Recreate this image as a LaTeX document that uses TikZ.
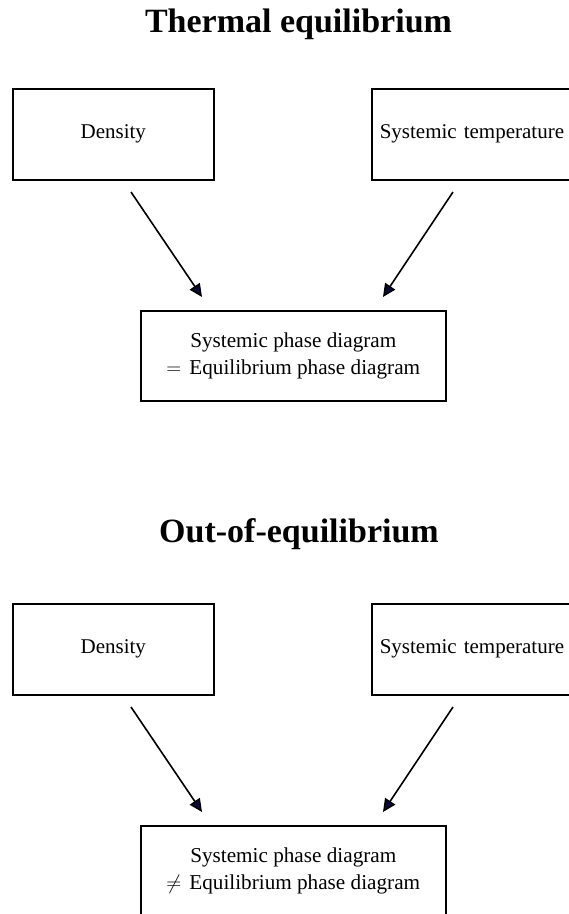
\documentclass[tikz,border=0pt]{standalone}
\usepackage{fontspec}
\setmainfont{Liberation Serif}
\usetikzlibrary{arrows.meta}
\definecolor{tipnavy}{rgb}{0.04,0.04,0.22}
\tikzset{
  boxnode/.style={draw=black, line width=1.6pt, inner sep=0pt, anchor=north west,
    font=\fontsize{21}{27}\selectfont},
  phasebox/.style={boxnode, minimum width=305, minimum height=90, align=center,
    font=\fontsize{21.2}{27}\selectfont},
  titlenode/.style={anchor=base, inner sep=0pt, font=\fontsize{34}{40}\selectfont\bfseries},
  arr/.style={line width=1.6pt, -{Triangle[length=13pt,width=12pt,fill=tipnavy]}}
}
\begin{document}
\begin{tikzpicture}[x=1pt,y=-1pt]
\clip (0,0) rectangle (569,914);
\fill[white] (0,0) rectangle (569,914);
% ---- Thermal equilibrium ----
\node[titlenode] (t1) at (298.5,32) {Thermal equilibrium};
\node[boxnode, minimum width=201, minimum height=91] (d1) at (12,88) {Density};
\node[boxnode, minimum height=91, text width=220, inner xsep=8, align=left] (s1) at (371,88) {Systemic temperature};
\node[phasebox] (p1) at (140,310)
  {Systemic phase diagram\\$=$\hspace{8pt}Equilibrium phase diagram};
\coordinate (a1s) at (131,192); \coordinate (a1e) at (202,297);
\coordinate (b1s) at (453,192); \coordinate (b1e) at (383,297);
\draw[arr] (a1s) -- (a1e);
\draw[arr] (b1s) -- (b1e);
% ---- Out-of-equilibrium ----
\node[titlenode] (t2) at (299,542) {Out-of-equilibrium};
\node[boxnode, minimum width=201, minimum height=91] (d2) at (12,603) {Density};
\node[boxnode, minimum height=91, text width=220, inner xsep=8, align=left] (s2) at (371,603) {Systemic temperature};
\node[phasebox] (p2) at (140,825)
  {Systemic phase diagram\\$\neq$\hspace{8pt}Equilibrium phase diagram};
\coordinate (a2s) at (131,707); \coordinate (a2e) at (202,812);
\coordinate (b2s) at (453,707); \coordinate (b2e) at (383,812);
\draw[arr] (a2s) -- (a2e);
\draw[arr] (b2s) -- (b2e);
\end{tikzpicture}
\end{document}
